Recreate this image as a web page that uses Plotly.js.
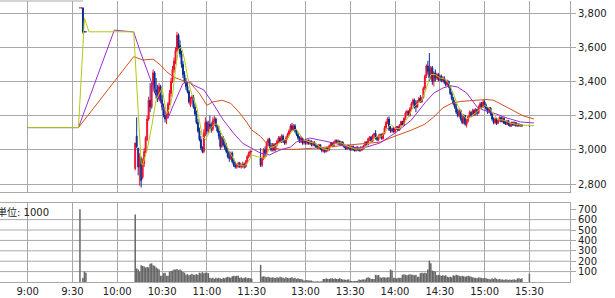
<!DOCTYPE html>
<html><head><meta charset="utf-8">
<script src="https://cdn.plot.ly/plotly-3.0.1.min.js"></script>
<style>html,body{margin:0;padding:0;background:#fff;}#chart{width:615px;height:298px;}</style>
</head><body><div id="chart"></div>
<script>
// ---------- DATA ----------
const xTickTimes = ['9:00','9:30','10:00','10:30','11:00','11:30','13:00','13:30','14:00','14:30','15:00','15:30'];
const priceTicks = [2800,3000,3200,3400,3600,3800];
const priceTickText = ['2,800','3,000','3,200','3,400','3,600','3,800'];
const volTicks = [100,200,300,400,500,600,700];
const volUnitLabel = '単位: 1000';

const cTime = [
 '9:35','9:36','9:37','9:38','9:39','10:12','10:13','10:14','10:15','10:16',
 '10:17','10:18','10:19','10:20','10:21','10:22','10:23','10:24','10:25','10:26',
 '10:27','10:28','10:29','10:30','10:31','10:32','10:33','10:34','10:35','10:36',
 '10:37','10:38','10:39','10:40','10:41','10:42','10:43','10:44','10:45','10:46',
 '10:47','10:48','10:49','10:50','10:51','10:52','10:53','10:54','10:55','10:56',
 '10:57','10:58','10:59','11:00','11:01','11:02','11:03','11:04','11:05','11:06',
 '11:07','11:08','11:09','11:10','11:11','11:12','11:13','11:14','11:15','11:16',
 '11:17','11:18','11:19','11:20','11:21','11:22','11:23','11:24','11:25','11:26',
 '11:27','11:28','11:29','11:30',
 '12:30','12:31','12:32','12:33','12:34','12:35','12:36','12:37','12:38','12:39',
 '12:40','12:41','12:42','12:43','12:44','12:45','12:46','12:47','12:48','12:49',
 '12:50','12:51','12:52','12:53','12:54','12:55','12:56','12:57','12:58','12:59',
 '13:00','13:01','13:02','13:03','13:04','13:05','13:06','13:07','13:08','13:09',
 '13:10','13:11','13:12','13:13','13:14','13:15','13:16','13:17','13:18','13:19',
 '13:20','13:21','13:22','13:23','13:24','13:25','13:26','13:27','13:28','13:29',
 '13:30','13:31','13:32','13:33','13:34','13:35','13:36','13:37','13:38','13:39',
 '13:40','13:41','13:42','13:43','13:44','13:45','13:46','13:47','13:48','13:49',
 '13:50','13:51','13:52','13:53','13:54','13:55','13:56','13:57','13:58','13:59',
 '14:00','14:01','14:02','14:03','14:04','14:05','14:06','14:07','14:08','14:09',
 '14:10','14:11','14:12','14:13','14:14','14:15','14:16','14:17','14:18','14:19',
 '14:20','14:21','14:22','14:23','14:24','14:25','14:26','14:27','14:28','14:29',
 '14:30','14:31','14:32','14:33','14:34','14:35','14:36','14:37','14:38','14:39',
 '14:40','14:41','14:42','14:43','14:44','14:45','14:46','14:47','14:48','14:49',
 '14:50','14:51','14:52','14:53','14:54','14:55','14:56','14:57','14:58','14:59',
 '15:00','15:01','15:02','15:03','15:04','15:05','15:06','15:07','15:08','15:09',
 '15:10','15:11','15:12','15:13','15:14','15:15','15:16','15:17','15:18','15:19',
 '15:20','15:21','15:22','15:23','15:24','15:25','15:30'
];
const cOpen = [
 3830,3830,3830,3690,3690,2890,3080,3010,2900,2950,
 2840,2920,2990,3060,3180,3290,3250,3380,3450,3350,
 3330,3300,3370,3290,3250,3200,3180,3200,3270,3330,
 3400,3470,3520,3580,3670,3610,3560,3500,3440,3400,
 3370,3340,3260,3300,3310,3250,3210,3160,3110,3060,
 3010,2990,3100,3160,3110,3150,3140,3120,3170,3180,
 3140,3110,3080,3020,3070,3030,3010,2990,2960,2950,
 2980,2930,2910,2900,2905,2920,2900,2905,2915,2900,
 2930,2960,2980,2990,
 2950,2910,2950,3000,2980,3040,3060,3020,3000,3030,
 3000,3030,3050,3070,3050,3080,3050,3040,3070,3090,
 3110,3140,3120,3140,3110,3090,3070,3050,3070,3040,
 3050,3040,3055,3035,3050,3030,3045,3025,3020,3010,
 3030,3005,2995,3005,2990,3010,3000,3025,3040,3020,
 3045,3055,3040,3050,3030,3045,3025,3015,3005,3025,
 3010,3000,3020,3000,2995,3015,3000,2995,3015,3005,
 3025,3045,3030,3065,3075,3050,3085,3095,3070,3060,
 3080,3090,3065,3095,3130,3160,3180,3120,3110,3125,
 3105,3125,3135,3115,3145,3165,3145,3185,3215,3225,
 3200,3240,3270,3290,3270,3250,3285,3300,3280,3305,
 3360,3430,3490,3470,3420,3480,3400,3450,3420,3440,
 3410,3430,3405,3420,3395,3380,3400,3370,3330,3300,
 3270,3250,3220,3200,3230,3180,3160,3200,3150,3170,
 3195,3220,3200,3230,3210,3235,3215,3250,3270,3250,
 3280,3260,3240,3220,3245,3210,3180,3160,3180,3155,
 3175,3190,3165,3185,3155,3150,3170,3145,3140,3160,
 3145,3160,3140,3150,3140,3145,3140
];
const cHigh = [
 3830,3830,3830,3690,3690,3040,3190,3010,2980,2960,
 2950,3010,3080,3200,3310,3390,3400,3470,3460,3420,
 3380,3390,3380,3320,3270,3230,3220,3280,3350,3420,
 3490,3540,3600,3690,3680,3640,3580,3520,3460,3420,
 3390,3350,3310,3320,3320,3270,3230,3180,3130,3080,
 3020,3120,3190,3170,3170,3200,3160,3190,3200,3190,
 3150,3140,3100,3080,3080,3060,3040,3010,2990,2990,
 2990,2950,2930,2920,2930,2930,2920,2930,2925,2940,
 2970,2990,3000,2990,
 3010,2960,3010,3020,3050,3070,3070,3040,3040,3040,
 3040,3060,3080,3080,3090,3090,3060,3080,3100,3120,
 3150,3157,3150,3150,3120,3100,3080,3080,3070,3060,
 3060,3060,3060,3060,3055,3050,3050,3040,3030,3035,
 3030,3015,3010,3010,3015,3015,3030,3045,3045,3050,
 3060,3060,3060,3055,3050,3050,3035,3030,3030,3030,
 3020,3025,3025,3015,3020,3020,3010,3020,3020,3030,
 3050,3050,3070,3080,3080,3090,3100,3115,3080,3090,
 3095,3095,3100,3140,3170,3190,3195,3140,3130,3135,
 3130,3140,3140,3150,3170,3170,3190,3225,3235,3230,
 3250,3280,3300,3300,3290,3290,3310,3320,3310,3370,
 3440,3500,3520,3566,3490,3490,3460,3470,3450,3450,
 3440,3440,3430,3430,3410,3410,3405,3375,3340,3310,
 3290,3270,3240,3240,3235,3200,3210,3205,3180,3200,
 3230,3225,3240,3240,3245,3240,3260,3280,3280,3292,
 3290,3270,3250,3250,3250,3215,3190,3190,3185,3180,
 3195,3195,3190,3190,3170,3175,3175,3160,3165,3165,
 3165,3160,3155,3155,3150,3150,3140
];
const cLow = [
 3830,3830,3680,3690,3690,2880,3010,2850,2790,2780,
 2830,2900,2980,3050,3170,3220,3240,3340,3330,3300,
 3280,3290,3280,3230,3190,3160,3150,3190,3260,3310,
 3390,3450,3500,3570,3590,3540,3480,3420,3390,3350,
 3330,3270,3250,3270,3240,3200,3150,3100,3050,3000,
 2980,2980,3080,3090,3100,3120,3100,3110,3140,3130,
 3100,3060,3000,3010,3020,3000,2980,2950,2930,2940,
 2920,2900,2890,2890,2895,2895,2890,2895,2890,2895,
 2920,2950,2960,2990,
 2900,2900,2940,2960,2960,3020,3010,2990,2990,2990,
 2990,3020,3040,3040,3040,3040,3030,3030,3060,3080,
 3100,3110,3110,3100,3080,3060,3040,3040,3030,3030,
 3030,3030,3030,3030,3020,3020,3020,3010,3005,3005,
 3000,2985,2985,2980,2985,2990,2995,3015,3015,3015,
 3035,3035,3035,3025,3025,3020,3010,3000,3000,3005,
 2995,2995,2995,2990,2990,2995,2990,2990,2995,3000,
 3020,3020,3025,3050,3045,3045,3070,3060,3050,3050,
 3070,3060,3060,3090,3120,3150,3110,3100,3100,3100,
 3100,3115,3110,3110,3140,3140,3140,3175,3200,3195,
 3195,3235,3260,3240,3220,3245,3275,3275,3275,3300,
 3350,3420,3440,3400,3410,3380,3370,3400,3410,3400,
 3400,3395,3395,3385,3370,3375,3360,3320,3290,3260,
 3240,3210,3190,3190,3170,3150,3150,3140,3130,3160,
 3185,3190,3195,3200,3200,3200,3210,3240,3240,3245,
 3250,3230,3210,3215,3200,3170,3150,3150,3145,3150,
 3165,3160,3160,3150,3145,3145,3140,3135,3135,3140,
 3140,3135,3135,3135,3135,3135,3140
];
const cClose = [
 3830,3830,3690,3690,3690,3040,3020,2900,2960,2820,
 2930,2990,3070,3180,3290,3250,3380,3450,3350,3320,
 3300,3370,3290,3250,3200,3180,3200,3270,3330,3400,
 3470,3520,3580,3670,3610,3560,3500,3440,3400,3370,
 3340,3280,3300,3310,3250,3210,3160,3110,3060,3010,
 2990,3100,3160,3110,3150,3140,3120,3170,3180,3140,
 3110,3080,3020,3070,3030,3010,2990,2960,2950,2980,
 2930,2910,2900,2905,2920,2900,2905,2915,2900,2930,
 2960,2980,2990,2990,
 2910,2950,3000,2980,3040,3060,3020,3000,3030,3000,
 3030,3050,3070,3050,3080,3050,3040,3070,3090,3110,
 3140,3120,3140,3110,3090,3070,3050,3070,3040,3050,
 3040,3055,3035,3050,3030,3045,3025,3020,3010,3030,
 3005,2995,3005,2990,3010,3000,3025,3040,3020,3045,
 3055,3040,3050,3030,3045,3025,3015,3005,3025,3010,
 3000,3020,3000,2995,3015,3000,2995,3015,3005,3025,
 3045,3030,3065,3075,3050,3085,3095,3070,3060,3080,
 3090,3065,3095,3130,3160,3180,3120,3110,3125,3105,
 3125,3135,3115,3145,3165,3145,3185,3215,3225,3200,
 3240,3270,3290,3250,3250,3285,3300,3280,3305,3360,
 3430,3490,3460,3420,3480,3400,3450,3420,3440,3410,
 3430,3405,3420,3395,3380,3400,3370,3330,3300,3270,
 3250,3220,3200,3230,3180,3160,3200,3150,3170,3195,
 3220,3200,3230,3210,3235,3215,3250,3270,3250,3280,
 3260,3240,3220,3245,3210,3180,3160,3180,3155,3175,
 3190,3165,3185,3155,3150,3170,3145,3140,3160,3145,
 3160,3140,3150,3140,3145,3140,3140
];

const vTime = [
 '9:35','9:37','9:38','9:39','10:12','10:13','10:14','10:15','10:16','10:17',
 '10:18','10:19','10:20','10:21','10:22','10:23','10:24','10:25','10:26','10:27',
 '10:28','10:29','10:30','10:31','10:32','10:33','10:34','10:35','10:36','10:37',
 '10:38','10:39','10:40','10:41','10:42','10:43','10:44','10:45','10:46','10:47',
 '10:48','10:49','10:50','10:51','10:52','10:53','10:54','10:55','10:56','10:57',
 '10:58','10:59','11:00','11:01','11:02','11:03','11:04','11:05','11:06','11:07',
 '11:08','11:09','11:10','11:11','11:12','11:13','11:14','11:15','11:16','11:17',
 '11:18','11:19','11:20','11:21','11:22','11:23','11:24','11:25','11:26','11:27',
 '11:28','11:29','11:30',
 '12:30','12:31','12:32','12:33','12:34','12:35','12:36','12:37','12:38','12:39',
 '12:40','12:41','12:42','12:43','12:44','12:45','12:46','12:47','12:48','12:49',
 '12:50','12:51','12:52','12:53','12:54','12:55','12:56','12:57','12:58','12:59',
 '13:00','13:01','13:02','13:03','13:04','13:05','13:06','13:07','13:08','13:09',
 '13:10','13:11','13:12','13:13','13:14','13:15','13:16','13:17','13:18','13:19',
 '13:20','13:21','13:22','13:23','13:24','13:25','13:26','13:27','13:28','13:29',
 '13:30','13:31','13:32','13:33','13:34','13:35','13:36','13:37','13:38','13:39',
 '13:40','13:41','13:42','13:43','13:44','13:45','13:46','13:47','13:48','13:49',
 '13:50','13:51','13:52','13:53','13:54','13:55','13:56','13:57','13:58','13:59',
 '14:00','14:01','14:02','14:03','14:04','14:05','14:06','14:07','14:08','14:09',
 '14:10','14:11','14:12','14:13','14:14','14:15','14:16','14:17','14:18','14:19',
 '14:20','14:21','14:22','14:23','14:24','14:25','14:26','14:27','14:28','14:29',
 '14:30','14:31','14:32','14:33','14:34','14:35','14:36','14:37','14:38','14:39',
 '14:40','14:41','14:42','14:43','14:44','14:45','14:46','14:47','14:48','14:49',
 '14:50','14:51','14:52','14:53','14:54','14:55','14:56','14:57','14:58','14:59',
 '15:00','15:01','15:02','15:03','15:04','15:05','15:06','15:07','15:08','15:09',
 '15:10','15:11','15:12','15:13','15:14','15:15','15:16','15:17','15:18','15:19',
 '15:20','15:21','15:22','15:23','15:24','15:25','15:30'
];
const volume = [
 700,40,100,90,650,130,120,100,160,155,
 150,140,145,140,175,180,160,155,140,130,
 120,60,60,85,90,60,60,100,105,110,
 120,120,125,115,120,110,95,90,70,75,
 65,70,80,70,70,75,70,90,85,95,
 85,90,90,85,40,35,40,30,40,35,
 40,35,30,40,35,45,50,45,40,55,
 60,55,60,60,40,45,35,40,45,35,
 40,35,30,
 165,50,55,50,45,50,45,40,45,40,
 40,45,40,50,45,40,35,45,40,35,
 40,45,35,40,30,35,30,30,25,15,
 15,20,15,15,15,8,5,5,8,5,
 5,8,30,30,35,30,30,35,35,30,
 35,30,30,35,30,25,25,20,25,25,
 10,10,8,10,10,12,25,20,25,25,
 25,40,45,40,30,30,30,70,65,68,
 45,40,45,45,40,45,45,120,110,40,
 40,35,40,40,40,70,75,70,65,70,
 75,70,70,65,70,50,50,85,90,85,
 90,85,120,205,180,110,105,100,65,70,
 65,60,65,60,65,50,45,50,45,65,
 60,70,65,60,55,60,55,50,55,60,
 55,50,45,40,40,35,45,40,40,35,
 40,35,30,30,25,35,30,40,30,25,
 30,25,25,20,25,25,20,25,20,25,
 25,20,35,35,30,35,80
];

// moving-average lines
const maShortTime = ['9:00','9:34','9:38','9:41','10:11','10:16','10:17','10:20','10:23','10:26','10:30','10:33','10:35','10:37','10:39','10:41','10:43','10:45','10:47','10:49','10:51','10:53','10:55','10:57','10:59','11:01','11:03','11:05','11:07','11:09','11:11','11:13','11:15','11:17','11:19','11:21','11:23','11:25','11:27','11:29','11:30',
 '12:30','12:33','12:36','12:39','12:42','12:45','12:48','12:51','12:54','12:57','13:00','13:03','13:06','13:09','13:12','13:15','13:18','13:21','13:24','13:27','13:30','13:33','13:36','13:39','13:42','13:45','13:48','13:51','13:54','13:57','14:00','14:03','14:06','14:09','14:12','14:15','14:18','14:21','14:24','14:27','14:30','14:33','14:36','14:39','14:42','14:45','14:48','14:51','14:54','14:57','15:00','15:03','15:06','15:09','15:12','15:15','15:18','15:21','15:24','15:33'];
const maShort = [3130,3130,3770,3690,3690,2921,2911,3000,3135,3291,3360,3210,3240,3320,3470,3590,3600,3530,3430,3350,3300,3260,3170,3080,3060,3090,3130,3150,3150,3110,3060,3030,2990,2960,2930,2910,2910,2905,2920,2950,2970,
 2955,2950,3010,3020,3035,3055,3065,3110,3120,3080,3055,3045,3040,3025,3005,3000,3025,3040,3040,3025,3015,3005,3005,3010,3035,3060,3080,3080,3110,3150,3125,3125,3150,3195,3245,3270,3290,3360,3440,3440,3420,3415,3390,3330,3260,3210,3180,3195,3215,3240,3260,3245,3210,3175,3175,3165,3155,3150,3145,3142];

const maMidTime = ['9:00','9:34','9:58','10:11','10:15','10:20','10:24','10:34','10:37','10:44','10:49','10:51','10:58','11:04','11:11','11:18','11:24','11:30',
 '12:30','12:36','12:43','12:50','12:54','13:03','13:10','13:19','13:28','13:34','13:41','13:50','14:00','14:11','14:20','14:26','14:32','14:37','14:42','14:48','14:55','14:59','15:06','15:15','15:24','15:33'];
const maMid = [3130,3130,3700,3689,3584,3467,3369,3184,3250,3389,3396,3379,3350,3272,3174,3096,3038,3009,
 2980,2970,2999,3016,3046,3069,3057,3040,3016,3011,3016,3040,3098,3174,3274,3332,3361,3375,3367,3332,3250,3233,3215,3186,3163,3157];

const maLongTime = ['9:00','9:34','10:11','10:17','10:24','10:29','10:33','10:38','10:43','10:49','10:55','11:00','11:04','11:10','11:16','11:22','11:27','11:30',
 '12:30','12:32','12:36','12:43','12:54','13:05','13:16','13:28','13:39','13:50','14:00','14:11','14:20','14:26','14:32','14:38','14:44','14:52','15:01','15:06','15:12','15:19','15:26','15:33'];
const maLong = [3130,3130,3545,3525,3530,3495,3457,3424,3408,3389,3330,3260,3280,3290,3272,3215,3157,3116,
 3078,3057,3018,3003,3003,3009,3018,3028,3034,3045,3080,3115,3150,3192,3245,3272,3283,3290,3294,3290,3262,3233,3198,3180];

// ---------- MAPPING (session time -> continuous axis, lunch break compressed) ----------
function slot(t){
  const p = t.split(':').map(Number);
  const mins = p[0]*60 + p[1] - 540;
  return mins >= 210 ? mins - 54 : mins;
}

const RED = '#f0102d', BLUE = '#0b2c8f';
const GRID = '#a8a8a8', TXT = '#222';
const xRange = [-18.55, 363.2];
const xTickVals = xTickTimes.map(slot);

const traces = [
  {type:'candlestick', x:cTime.map(slot), open:cOpen, high:cHigh, low:cLow, close:cClose,
   xaxis:'x', yaxis:'y', whiskerwidth:0, hoverinfo:'skip',
   increasing:{line:{color:RED,width:1}, fillcolor:RED},
   decreasing:{line:{color:BLUE,width:1}, fillcolor:BLUE}},
  {type:'scatter', mode:'lines', x:maLongTime.map(slot), y:maLong, xaxis:'x', yaxis:'y',
   line:{color:'#d4501c', width:1}, hoverinfo:'skip'},
  {type:'scatter', mode:'lines', x:maMidTime.map(slot), y:maMid, xaxis:'x', yaxis:'y',
   line:{color:'#9a2fd0', width:1}, hoverinfo:'skip'},
  {type:'scatter', mode:'lines', x:maShortTime.map(slot), y:maShort, xaxis:'x', yaxis:'y',
   line:{color:'#b4c814', width:1}, hoverinfo:'skip'},
  {type:'bar', x:vTime.map(slot), y:volume, xaxis:'x2', yaxis:'y2', width:1,
   marker:{color:'#666666', line:{width:0}}, hoverinfo:'skip'}
];

const H = 298, T = 1, B = 16, PH = H - T - B;
const priceBottom = (H - B - 192.3) / PH;
const volTop = (H - B - 203.3) / PH;

const volGridShapes = volTicks.filter(v => v < 700).map(v => ({
  type:'line', xref:'paper', x0:0, x1:1, yref:'y2', y0:v, y1:v,
  line:{color:GRID, width:1}, layer:'below'
}));

const layout = {
  width:615, height:298,
  margin:{l:0, r:45, t:T, b:B, pad:0},
  paper_bgcolor:'#fff', plot_bgcolor:'#fff',
  showlegend:false, boxgap:0.1,
  font:{family:'DejaVu Sans, Verdana, sans-serif', size:10, color:TXT},
  xaxis:{domain:[0,1], anchor:'y', range:xRange, tickvals:xTickVals, showticklabels:false,
    showgrid:true, gridcolor:GRID, gridwidth:1, zeroline:false, showline:true, linecolor:GRID,
    ticks:'', rangeslider:{visible:false}, fixedrange:true},
  yaxis:{domain:[priceBottom,1], anchor:'x', range:[2751.5,3870.2], side:'right',
    tickvals:priceTicks, ticktext:priceTickText, ticks:'outside', ticklen:5, tickcolor:GRID,
    showgrid:true, gridcolor:GRID, gridwidth:1, zeroline:false, showline:true, linecolor:GRID,
    tickfont:{size:10, color:TXT}, fixedrange:true},
  xaxis2:{domain:[0,1], anchor:'y2', range:xRange, tickvals:xTickVals, ticktext:xTickTimes,
    showgrid:true, gridcolor:GRID, gridwidth:1, zeroline:false, showline:true, mirror:true,
    linecolor:GRID, ticks:'', tickfont:{size:10, color:TXT}, fixedrange:true},
  yaxis2:{domain:[0,volTop], anchor:'x2', range:[0,757], side:'right',
    tickvals:volTicks, ticks:'outside', ticklen:5, tickcolor:GRID, showgrid:false,
    zeroline:false, showline:true, linecolor:GRID, tickfont:{size:10, color:TXT}, fixedrange:true},
  shapes:[
    ...volGridShapes,
    {type:'line', xref:'paper', x0:0, x1:83/570, yref:'paper', y0:1, y1:1, line:{color:GRID,width:1}}
  ],
  annotations:[
    {xref:'paper', yref:'paper', x:0, y:volTop, xanchor:'left', yanchor:'top', xshift:-5, yshift:-1,
     text:volUnitLabel, showarrow:false,
     font:{family:'DejaVu Sans, Noto Sans CJK JP, sans-serif', size:10, color:TXT}}
  ]
};

Plotly.newPlot('chart', traces, layout, {staticPlot:true, displayModeBar:false});
</script></body></html>
